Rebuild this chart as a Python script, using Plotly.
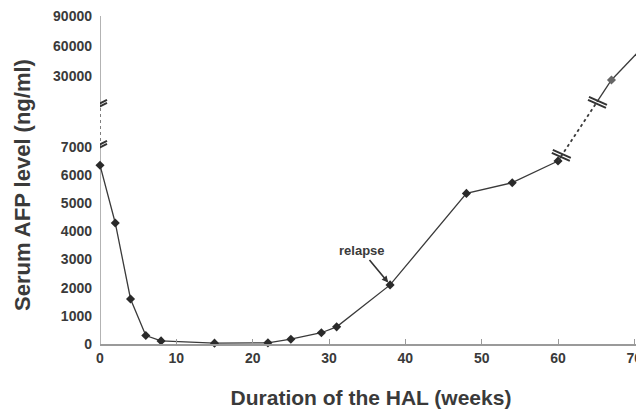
import plotly.graph_objects as go

# ---- data ----
weeks_low = [0, 2, 4, 6, 8, 15, 22, 25, 29, 31, 38, 48, 54, 60]
afp_low = [6350, 4300, 1600, 300, 110, 30, 40, 170, 400, 610, 2100, 5350, 5730, 6500]
weeks_high = [67, 71]
afp_high = [26000, 58000]
low_ticks = [0, 1000, 2000, 3000, 4000, 5000, 6000, 7000]
high_ticks = [30000, 60000, 90000]
x_ticks = [0, 10, 20, 30, 40, 50, 60, 70]
relapse_week = 38
relapse_afp = 2100

# ---- broken-axis mapping (lower scale 0-7000, upper scale 0-90000) ----
LOW_TOP = 7000
GAP = 1457
HIGH_SCALE = 35.5 / 1000.0
BREAK_LOW = 6650      # where the rising line is cut (lower scale)
BREAK_HIGH = 4000     # where it resumes (upper scale)


def disp_low(v):
    return v


def disp_high(v):
    return LOW_TOP + GAP + v * HIGH_SCALE


Y_MAX = disp_high(90000)

LINE_C = "#3a3a3a"
MARK_C = "#2a2a2a"
TXT_C = "#3a3a3a"
AX_C = "#9a9a9a"
FONT = "Liberation Sans, Arial, sans-serif"

fig = go.Figure()

marker = dict(symbol="diamond", size=7, color=MARK_C)

fig.add_trace(go.Scatter(x=weeks_low, y=[disp_low(v) for v in afp_low],
                         mode="lines+markers", line=dict(color=LINE_C, width=1.3),
                         marker=marker, cliponaxis=False, showlegend=False))

# crossing segment between last low point and first high point
x0, y0 = weeks_low[-1], disp_low(afp_low[-1])
x1, y1 = weeks_high[0], disp_high(afp_high[0])


def x_at(yv):
    return x0 + (yv - y0) / (y1 - y0) * (x1 - x0)


yb_lo = disp_low(BREAK_LOW)
yb_hi = disp_high(BREAK_HIGH)
xb_lo, xb_hi = x_at(yb_lo), x_at(yb_hi)

fig.add_trace(go.Scatter(x=[x0, xb_lo], y=[y0, yb_lo], mode="lines",
                         line=dict(color=LINE_C, width=1.3), showlegend=False))
fig.add_trace(go.Scatter(x=[xb_lo, xb_hi], y=[yb_lo, yb_hi], mode="lines",
                         line=dict(color=LINE_C, width=1.8, dash="dot"), showlegend=False))
fig.add_trace(go.Scatter(x=[xb_hi, x1], y=[yb_hi, y1], mode="lines",
                         line=dict(color=LINE_C, width=1.3), showlegend=False))

fig.add_trace(go.Scatter(x=weeks_high, y=[disp_high(v) for v in afp_high],
                         mode="lines+markers", line=dict(color=LINE_C, width=1.3),
                         marker=dict(symbol="diamond", size=7, color="#666"),
                         cliponaxis=False, showlegend=False))

shapes = []
# y axis line: solid / dashed / solid
shapes.append(dict(type="line", xref="x", yref="y", x0=0, x1=0, y0=0, y1=LOW_TOP,
                   line=dict(color=AX_C, width=1.5), layer="below"))
shapes.append(dict(type="line", xref="x", yref="y", x0=0, x1=0, y0=LOW_TOP,
                   y1=disp_high(0), line=dict(color="#555", width=1.5, dash="dot"),
                   layer="below"))
shapes.append(dict(type="line", xref="x", yref="y", x0=0, x1=0, y0=disp_high(0),
                   y1=Y_MAX, line=dict(color=AX_C, width=1.5), layer="below"))


def brk(x, y, path):
    return dict(type="path", xref="x", yref="y", xsizemode="pixel", ysizemode="pixel",
                xanchor=x, yanchor=y, path=path,
                line=dict(color="#333", width=2), fillcolor="rgba(0,0,0,0)")


shapes.append(brk(0, LOW_TOP, "M-7,-4 L7,3 M-7,-1 L7,6"))
shapes.append(brk(0, disp_high(0), "M-7,-4 L7,3 M-7,-1 L7,6"))
shapes.append(brk(xb_lo, yb_lo, "M-9,4 L9,-4 M-8,7 L10,-1"))
shapes.append(brk(xb_hi, yb_hi, "M-9,2 L9,-6 M-8,5 L10,-3"))

tickvals = [disp_low(v) for v in low_ticks] + [disp_high(v) for v in high_ticks]
ticktext = [str(v) for v in low_ticks] + [str(v) for v in high_ticks]

fig.update_layout(
    width=636, height=401,
    margin=dict(l=92, r=2, t=8, b=65),
    plot_bgcolor="white", paper_bgcolor="white",
    font=dict(family=FONT, color=TXT_C),
    shapes=shapes,
    xaxis=dict(range=[0, 71], tickvals=x_ticks, ticks="inside", ticklen=5,
               tickcolor=AX_C, tickwidth=1.2, showline=True, linecolor=AX_C,
               linewidth=1.5, showgrid=False, zeroline=False,
               tickfont=dict(size=14, weight="bold", color=TXT_C),
               ticklabeloverflow="allow",
               title=dict(text="Duration of the HAL (weeks)", standoff=26,
                          font=dict(size=21, weight="bold", color=TXT_C)),
               automargin=False),
    yaxis=dict(range=[0, Y_MAX], tickvals=tickvals, ticktext=ticktext, ticks="",
               showline=False, showgrid=False, zeroline=False,
               tickfont=dict(size=14, weight="bold", color=TXT_C),
               ticklabelstandoff=7, ticklabeloverflow="allow",
               automargin=False),
    annotations=[
        dict(x=relapse_week, y=disp_low(relapse_afp), xref="x", yref="y",
             text="relapse", showarrow=True, arrowhead=2, arrowsize=0.8,
             arrowwidth=1.6, arrowcolor="#333", ax=-28, ay=-34,
             standoff=3, font=dict(size=13, weight="bold", color=TXT_C)),
        dict(x=0, y=0.485, xref="paper", yref="paper", xanchor="center",
             yanchor="middle", xshift=-77, textangle=-90, showarrow=False,
             text="Serum AFP level (ng/ml)",
             font=dict(size=22, weight="bold", color=TXT_C)),
    ],
)

fig.write_html("out.html")
